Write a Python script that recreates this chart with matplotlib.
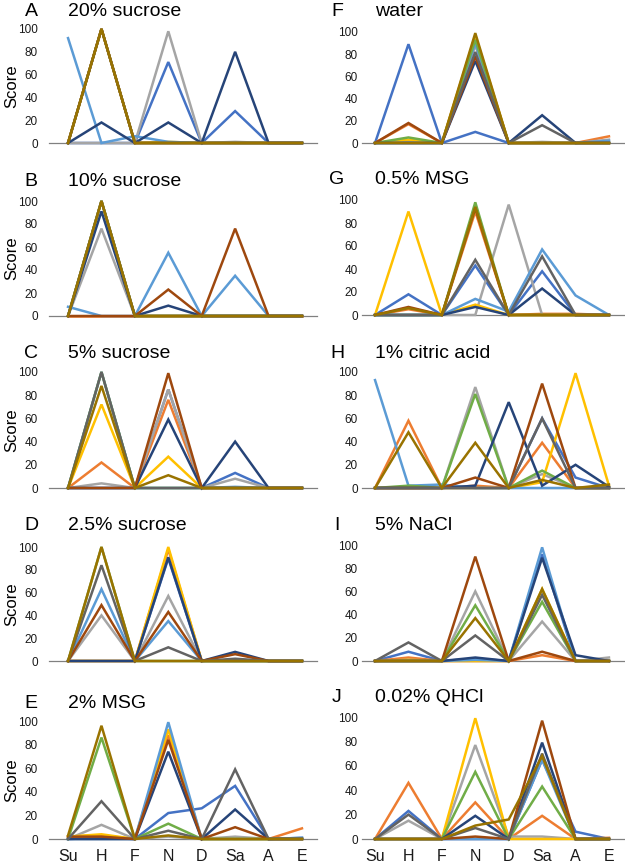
import matplotlib
matplotlib.use("Agg")
import matplotlib.pyplot as plt

categories = ["Su", "H", "F", "N", "D", "Sa", "A", "E"]
colors = ["#4472C4", "#ED7D31", "#A5A5A5", "#FFC000", "#5B9BD5",
          "#70AD47", "#264478", "#9E480E", "#636363", "#997300"]
y_ticks = [0, 20, 40, 60, 80, 100]

panel_A = [[0,0,0,71,0,28,0,0],[0,100,0,0,0,0,0,0],[0,0,0,98,0,1,0,0],[0,100,0,1,0,0,0,0],
           [92,0,6,1,0,0,0,0],[0,100,0,0,0,0,0,0],[0,18,0,18,0,80,0,0],[0,100,0,0,0,0,0,0],
           [0,100,0,0,0,0,0,0],[0,100,0,0,0,0,0,0]]
panel_B = [[0,100,0,0,0,0,0,0],[0,0,0,0,0,0,0,0],[0,76,0,0,0,0,0,0],[0,100,0,0,0,0,0,0],
           [8,0,0,55,0,35,0,0],[0,100,0,0,0,0,0,0],[0,91,0,9,0,0,0,0],[0,0,0,23,0,76,0,0],
           [0,100,0,0,0,0,0,0],[0,100,0,0,0,0,0,0]]
panel_C = [[0,0,0,85,0,13,0,0],[0,22,0,76,0,0,0,0],[0,4,0,85,0,8,0,0],[0,72,0,27,0,0,0,0],
           [0,100,0,0,0,1,0,0],[0,100,0,0,0,0,0,0],[0,0,0,59,0,40,0,0],[0,0,0,99,0,0,0,0],
           [0,100,0,0,0,0,0,0],[0,88,0,11,0,0,0,0]]
panel_D = [[0,0,0,90,0,0,0,0],[0,0,0,98,0,0,0,0],[0,40,0,57,0,0,0,0],[0,0,0,100,0,0,0,0],
           [0,63,0,35,0,0,0,0],[0,100,0,0,0,0,0,0],[0,0,0,91,0,8,0,0],[0,49,0,43,0,6,0,0],
           [0,84,0,12,0,2,0,0],[0,100,0,0,0,0,0,0]]
panel_E = [[0,1,0,22,26,45,0,1],[2,3,0,88,0,0,0,9],[0,12,0,2,0,2,0,0],[2,4,0,93,0,0,0,0],
           [0,0,0,99,0,0,0,1],[0,86,0,13,0,0,0,0],[0,0,0,74,0,25,0,0],[2,2,0,84,0,10,0,0],
           [0,32,0,7,0,59,0,0],[3,96,0,3,0,0,0,0]]
panel_F = [[0,89,0,10,0,0,0,0],[0,17,0,95,0,0,0,6],[0,2,0,88,0,1,0,3],[0,3,0,97,0,0,0,0],
           [0,0,0,90,0,0,0,2],[0,5,0,93,0,0,0,0],[0,0,0,74,0,25,0,0],[0,18,0,78,0,0,0,0],
           [0,0,0,82,0,16,0,0],[0,0,0,99,0,0,0,0]]
panel_G = [[0,18,0,43,0,38,0,0],[0,5,0,90,0,1,1,0],[0,0,0,0,96,0,0,0],[0,90,0,9,0,0,0,0],
           [0,0,0,14,3,57,17,0],[0,0,0,98,0,0,0,0],[0,0,0,7,0,23,0,0],[0,7,0,93,0,0,0,0],
           [0,0,0,48,0,51,0,0],[0,6,0,94,0,0,0,0]]
panel_H = [[0,0,0,0,0,60,9,0],[0,58,0,2,0,39,0,0],[0,0,0,87,0,12,0,0],[0,0,0,0,0,5,99,2],
           [93,2,3,0,0,0,0,0],[0,2,0,81,0,15,0,0],[0,0,0,2,74,2,20,1],[0,0,0,9,0,90,0,0],
           [0,0,0,0,0,60,0,0],[0,48,0,39,0,7,0,3]]
panel_I = [[0,8,0,2,0,92,0,0],[0,3,0,0,0,5,0,0],[0,1,0,60,0,34,0,3],[0,1,0,0,0,62,0,0],
           [0,0,0,1,0,98,0,0],[0,0,0,48,0,51,0,0],[0,0,0,3,0,89,5,0],[0,0,0,90,0,8,0,0],
           [0,16,0,22,0,57,0,0],[0,0,0,37,0,62,0,0]]
panel_J = [[0,23,0,0,0,65,6,0],[0,46,0,30,0,19,0,1],[0,15,0,77,2,2,0,0],[0,0,0,99,0,0,0,0],
           [0,0,0,0,0,65,0,0],[0,0,0,55,0,43,0,0],[0,0,0,19,0,79,0,0],[0,0,0,2,0,97,0,0],
           [0,20,0,9,0,70,0,0],[0,0,0,11,16,68,0,0]]

letters = ["A", "B", "C", "D", "E", "F", "G", "H", "I", "J"]
titles = ["20% sucrose", "10% sucrose", "5% sucrose", "2.5% sucrose", "2% MSG",
          "water", "0.5% MSG", "1% citric acid", "5% NaCl", "0.02% QHCl"]
panels = [panel_A, panel_B, panel_C, panel_D, panel_E,
          panel_F, panel_G, panel_H, panel_I, panel_J]

plt.rcParams["font.family"] = ["Liberation Sans", "DejaVu Sans"]

W, H = 625, 867
fig = plt.figure(figsize=(W / 100, H / 100), dpi=100)

# pixel layout: (left, width) per column; (y_top(100), y_bottom(0), title_y) per row
left_col = (49, 268)
right_col = (362, 263)
rows_left = [(29, 143, 12), (201, 316, 182), (372, 488, 353), (547, 661, 526), (721, 839, 703)]
rows_right = [(32, 143, 12), (200, 315, 180), (372, 488, 353), (545, 661, 526), (717, 839, 698)]

for i in range(10):
    col = 0 if i < 5 else 1
    r = i % 5
    lx, w = left_col if col == 0 else right_col
    ytop, ybot, ty = (rows_left if col == 0 else rows_right)[r]
    ax = fig.add_axes([lx / W, 1 - ybot / H, w / W, (ybot - ytop) / H])
    for k, series in enumerate(panels[i]):
        ax.plot(range(len(categories)), series, color=colors[k], lw=1.8,
                solid_joinstyle="miter", zorder=2 + k, clip_on=False)
    if col == 0:
        ax.set_xlim(-0.57, 7.45)
    else:
        ax.set_xlim(-0.39, 7.48)
    ax.set_ylim(0, 100)
    ax.set_yticks(y_ticks)
    ax.set_xticks(range(len(categories)))
    if r == 4:
        ax.set_xticklabels(categories, fontsize=11.5, color="#1a1a1a")
    else:
        ax.set_xticklabels([])
    ax.tick_params(axis="x", length=0, pad=7)
    ax.tick_params(axis="y", length=0, labelsize=8.5, labelcolor="#1a1a1a",
                   pad=8 if col == 0 else 3)
    for s in ["top", "right", "left"]:
        ax.spines[s].set_visible(False)
    ax.spines["bottom"].set_color("#808080")
    ax.spines["bottom"].set_linewidth(0.9)
    ax.spines["bottom"].set_zorder(1)
    ax.patch.set_alpha(0)
    # panel letter & title
    letter_x = 31 if col == 0 else 337
    title_x = 68 if col == 0 else 375
    fig.text(letter_x / W, 1 - ty / H, letters[i], fontsize=14, ha="center", va="center")
    fig.text(title_x / W, 1 - ty / H, titles[i], fontsize=14, ha="left", va="center")
    if col == 0:
        fig.text(12 / W, 1 - (ytop + ybot) / 2 / H, "Score", fontsize=12,
                 rotation=90, ha="center", va="center")

fig.savefig("out.png", dpi=100)
